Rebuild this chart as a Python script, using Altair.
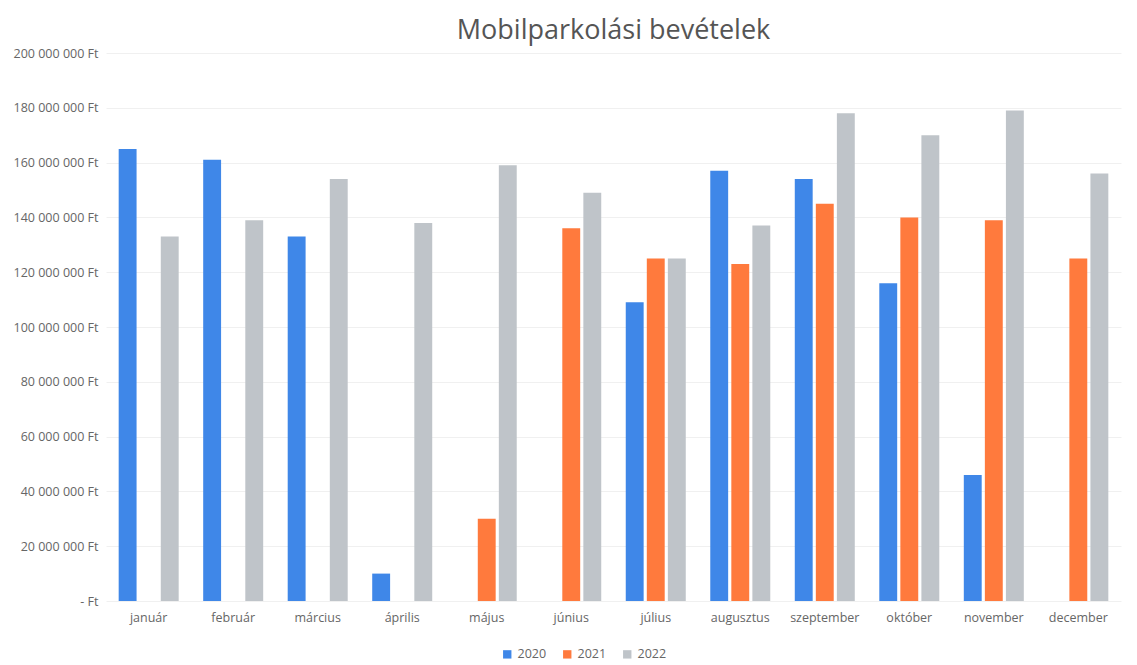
import altair as alt
import pandas as pd

months = ["január", "február", "március", "április", "május", "június",
          "július", "augusztus", "szeptember", "október", "november", "december"]
years = ["2020", "2021", "2022"]

# values in Ft (None = no bar)
rev_2020 = [165e6, 161e6, 133e6, 10e6, None, None, 109e6, 157e6, 154e6, 116e6, 46e6, None]
rev_2021 = [None, None, None, None, 30e6, 136e6, 125e6, 123e6, 145e6, 140e6, 139e6, 125e6]
rev_2022 = [133e6, 139e6, 154e6, 138e6, 159e6, 149e6, 125e6, 137e6, 178e6, 170e6, 179e6, 156e6]

rows = []
for yr, series in zip(years, [rev_2020, rev_2021, rev_2022]):
    for m, v in zip(months, series):
        if v is not None:
            rows.append({"honap": m, "ev": yr, "bevetel": v})
df = pd.DataFrame(rows)

colors = ["#3F87E8", "#FF7A3D", "#BFC4C9"]

label_expr = ("datum.value == 0 ? '-    Ft' : "
              "replace(format(datum.value, ',.0f'), regexp(',', 'g'), ' ') + ' Ft'")

chart = alt.Chart(df).mark_bar().encode(
    x=alt.X("honap:N", sort=months, title=None,
            scale=alt.Scale(paddingInner=0.29, paddingOuter=0.15),
            axis=alt.Axis(labelAngle=0, labelFontSize=12.5, labelColor="#666666",
                          labelPadding=10, ticks=False, domain=False, grid=False)),
    xOffset=alt.XOffset("ev:N", sort=years, scale=alt.Scale(paddingInner=0.15)),
    y=alt.Y("bevetel:Q", title=None,
            scale=alt.Scale(domain=[0, 200e6], nice=False),
            axis=alt.Axis(values=[i * 20e6 for i in range(11)], labelExpr=label_expr,
                          labelFontSize=12.5, labelColor="#666666", labelPadding=8,
                          ticks=False, domain=False, gridColor="#F0F0F0")),
    color=alt.Color("ev:N", sort=years, scale=alt.Scale(domain=years, range=colors),
                    legend=alt.Legend(title=None, orient="none", direction="horizontal",
                                      legendX=395, legendY=595, symbolType="square",
                                      symbolSize=70, labelFontSize=12.5,
                                      labelColor="#666666", columnPadding=14)),
).properties(
    width=1015, height=548,
    padding={"left": 5, "right": 5, "top": 9, "bottom": 5},
    title=alt.Title("Mobilparkolási bevételek", fontSize=27, color="#555555",
                    font="Open Sans", fontWeight="normal", anchor="middle", offset=2),
).configure(font="Open Sans").configure_view(stroke=None)

chart.save("out.html", embed_options={"renderer": "svg", "actions": False})
